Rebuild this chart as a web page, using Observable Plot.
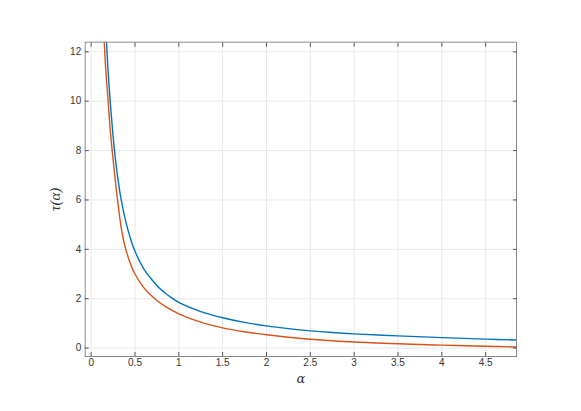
<!DOCTYPE html>
<html>
<head>
<meta charset="utf-8">
<script src="https://cdn.jsdelivr.net/npm/d3@7"></script>
<script src="https://cdn.jsdelivr.net/npm/@observablehq/plot@0.6"></script>
<style>
  html, body { margin: 0; padding: 0; background: #fff; }
  #chart { width: 581px; height: 411px; }
</style>
</head>
<body>
<div id="chart"></div>
<script>
// Values
const blueAlpha = [0.168, 0.175, 0.195, 0.217, 0.24, 0.266, 0.297, 0.342, 0.40, 0.45, 0.5, 0.6, 0.677, 0.79, 0.9, 1.0, 1.25, 1.5, 1.75, 2.0, 2.25, 2.5, 2.75, 3.0, 3.5, 4.0, 4.5, 4.85];
const blueTau   = [12.9, 12.4, 11.1, 10.0, 9.0, 8.0, 7.07, 6.02, 5.05, 4.42, 3.92, 3.21, 2.84, 2.39, 2.08, 1.85, 1.48, 1.23, 1.04, 0.9, 0.79, 0.7, 0.63, 0.575, 0.495, 0.425, 0.365, 0.325];
const redAlpha  = [0.143, 0.149, 0.17, 0.194, 0.215, 0.24, 0.303, 0.35, 0.391, 0.45, 0.5, 0.6, 0.677, 0.75, 0.85, 1.0, 1.25, 1.5, 1.75, 2.0, 2.25, 2.5, 2.75, 3.0, 3.5, 4.0, 4.5, 4.85];
const redTau    = [12.9, 12.4, 11.1, 10.0, 8.95, 8.0, 5.94, 4.72, 4.05, 3.4, 3.0, 2.45, 2.16, 1.93, 1.68, 1.39, 1.05, 0.82, 0.66, 0.54, 0.44, 0.36, 0.295, 0.245, 0.175, 0.12, 0.075, 0.045];
const xTicks = [0, 0.5, 1, 1.5, 2, 2.5, 3, 3.5, 4, 4.5];
const yTicks = [0, 2, 4, 6, 8, 10, 12];
const xDomain = [-0.068, 4.852];
const yDomain = [-0.34, 12.39];

const blue = blueAlpha.map((a, i) => ({a, t: blueTau[i]}));
const red = redAlpha.map((a, i) => ({a, t: redTau[i]}));

const font = "Liberation Sans, Helvetica, Arial, sans-serif";
const tickColor = "#555";
const tickLen = 4;

const chart = Plot.plot({
  width: 581,
  height: 411,
  marginLeft: 84.7,
  marginRight: 65,
  marginTop: 41.7,
  marginBottom: 55,
  style: {fontFamily: font, fontSize: "10px", color: "#333", background: "#fff"},
  x: {domain: xDomain},
  y: {domain: yDomain},
  marks: [
    Plot.gridX(xTicks, {stroke: "#e8e8e8", strokeOpacity: 1}),
    Plot.gridY(yTicks, {stroke: "#e8e8e8", strokeOpacity: 1}),
    Plot.line(blue, {x: "a", y: "t", stroke: "#0072BD", strokeWidth: 1.4, curve: "catmull-rom", clip: true}),
    Plot.line(red, {x: "a", y: "t", stroke: "#D95319", strokeWidth: 1.4, curve: "catmull-rom", clip: true}),
    Plot.frame({stroke: "#8a8a8a", strokeWidth: 1}),
    // tick labels
    Plot.axisX(xTicks, {anchor: "bottom", tickSize: 0, tickPadding: 2, tickFormat: d => String(d), label: null, fill: "#333"}),
    Plot.axisY(yTicks, {anchor: "left", tickSize: 0, tickPadding: 4, tickFormat: d => String(d), label: null, fill: "#333"}),
    // inward ticks on all four sides
    Plot.axisX(xTicks, {anchor: "bottom", tickSize: tickLen, dy: -tickLen, text: null, label: null, stroke: tickColor}),
    Plot.axisX(xTicks, {anchor: "top", tickSize: tickLen, dy: tickLen, text: null, label: null, stroke: tickColor}),
    Plot.axisY(yTicks, {anchor: "left", tickSize: tickLen, dx: tickLen, text: null, label: null, stroke: tickColor}),
    Plot.axisY(yTicks, {anchor: "right", tickSize: tickLen, dx: -tickLen, text: null, label: null, stroke: tickColor}),
    // axis titles
    Plot.text(["α"], {frameAnchor: "bottom", dy: 22, textAnchor: "middle", fontFamily: "DejaVu Serif, Liberation Serif, serif", fontStyle: "italic", fontSize: 13, fill: "#333", lineAnchor: "middle"}),
    Plot.text(["τ(α)"], {frameAnchor: "left", dx: -30, rotate: -90, textAnchor: "middle", fontFamily: "Liberation Serif, DejaVu Serif, serif", fontStyle: "italic", fontSize: 15, fill: "#333", lineAnchor: "middle"})
  ]
});
document.getElementById("chart").appendChild(chart);
</script>
</body>
</html>
